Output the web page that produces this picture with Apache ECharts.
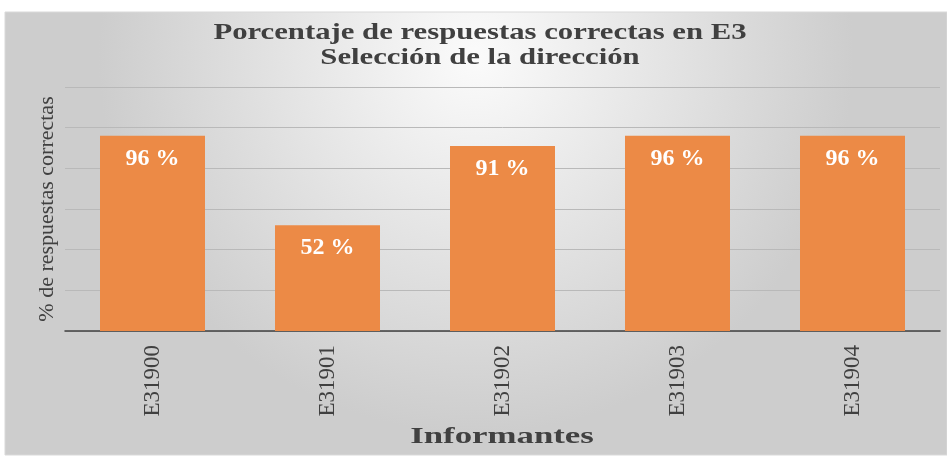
<!DOCTYPE html>
<html>
<head>
<meta charset="utf-8">
<script src="https://cdn.jsdelivr.net/npm/echarts@6/dist/echarts.min.js"></script>
<style>
  html, body { margin: 0; padding: 0; background: #fff; }
  #chart { width: 947px; height: 463px; }
</style>
</head>
<body>
<div id="chart"></div>
<script>
  // datos de la figura
  const informantes = ['E31900', 'E31901', 'E31902', 'E31903', 'E31904'];
  const porcentajes = [96, 52, 91, 96, 96];

  const serif = 'Liberation Serif';
  const textColor = '#404040';
  const chart = echarts.init(document.getElementById('chart'));

  chart.setOption({
    animation: false,
    graphic: [
      // fondo gris degradado del marco
      {
        type: 'rect',
        z: -10,
        silent: true,
        shape: { x: 5, y: 12, width: 942, height: 443 },
        style: {
          fill: {
            type: 'radial', x: 0.5, y: 0.1, r: 0.85,
            colorStops: [
              { offset: 0, color: '#fbfbfb' },
              { offset: 1, color: '#cdcdcd' }
            ]
          },
          stroke: '#d9d9d9',
          lineWidth: 1
        }
      },
      // título (texto algo ensanchado como en la imagen)
      {
        type: 'text',
        x: 480,
        y: 20,
        scaleX: 1.28,
        silent: true,
        style: {
          text: 'Porcentaje de respuestas correctas en E3\nSelección de la dirección',
          align: 'center',
          verticalAlign: 'top',
          fontFamily: serif,
          fontSize: 24,
          fontWeight: 'bold',
          lineHeight: 25,
          fill: textColor
        }
      },
      // nombre del eje x
      {
        type: 'text',
        x: 502,
        y: 437,
        scaleX: 1.45,
        silent: true,
        style: {
          text: 'Informantes',
          align: 'center',
          verticalAlign: 'middle',
          fontFamily: serif,
          fontSize: 24,
          fontWeight: 'bold',
          fill: textColor
        }
      }
    ],
    grid: { left: 65, right: 7, top: 87, bottom: 132 },
    xAxis: {
      type: 'category',
      data: informantes,
      axisLine: { lineStyle: { color: textColor, width: 1.5 } },
      axisTick: { show: false },
      axisLabel: {
        rotate: 90,
        margin: 14,
        fontFamily: serif,
        fontSize: 23,
        color: textColor
      }
    },
    yAxis: {
      type: 'value',
      min: 0,
      max: 120,
      interval: 20,
      name: '% de respuestas correctas',
      nameLocation: 'middle',
      nameGap: 7,
      nameTextStyle: { fontFamily: serif, fontSize: 22, color: textColor },
      axisLabel: { show: false },
      axisLine: { show: false },
      axisTick: { show: false },
      splitLine: { lineStyle: { color: '#b9b9b9', width: 1 } }
    },
    series: [{
      type: 'bar',
      data: porcentajes,
      barCategoryGap: '40%',
      itemStyle: { color: '#EC8A46' },
      label: {
        show: true,
        position: 'insideTop',
        distance: 11,
        formatter: '{c} %',
        fontFamily: serif,
        fontSize: 24,
        fontWeight: 'bold',
        color: '#ffffff'
      }
    }]
  });
</script>
</body>
</html>
